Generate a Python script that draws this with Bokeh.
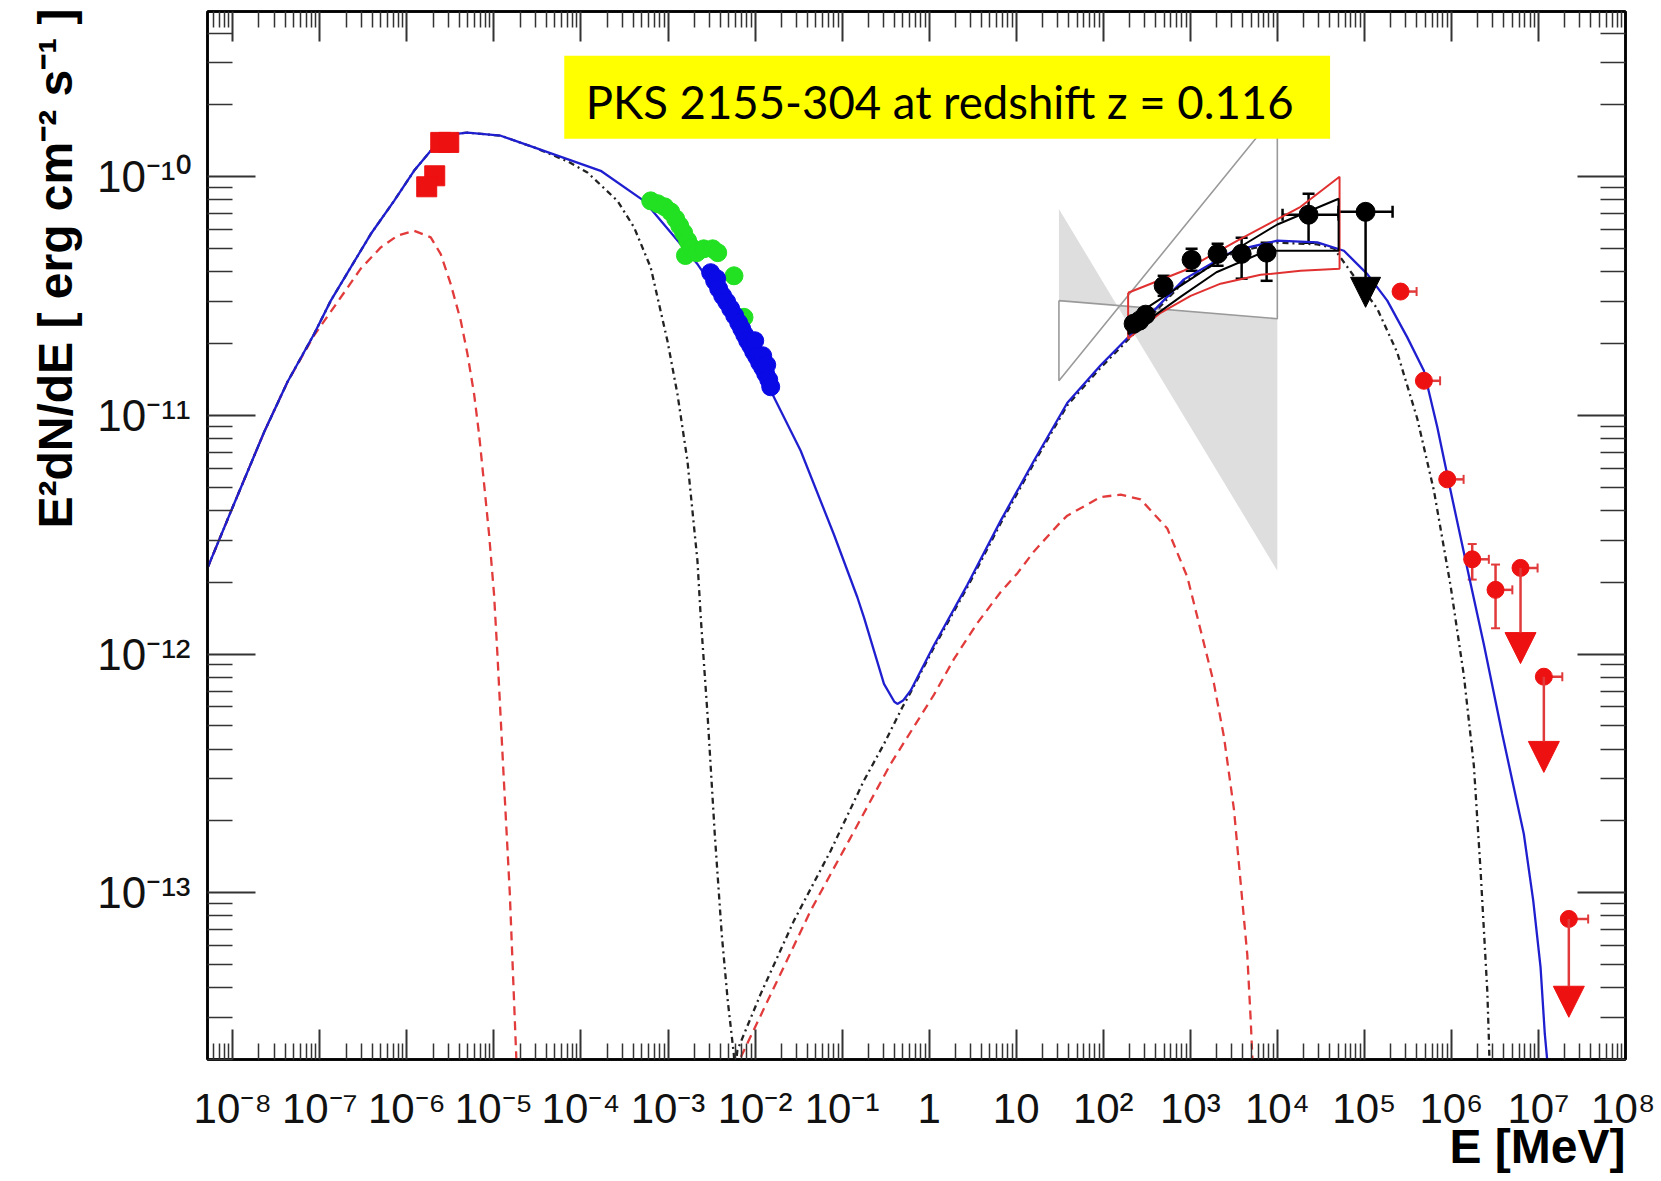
import numpy as np
from bokeh.plotting import figure
from bokeh.models import (ColumnDataSource, FixedTicker, LogAxis, Label, BoxAnnotation, Title,
                          Whisker, TeeHead, Arrow, NormalHead, CustomJSTickFormatter, Range1d)
from bokeh.embed import file_html
from bokeh.resources import INLINE

# All values: x = log10(E / MeV), y = log10(E^2 dN/dE / erg cm^-2 s^-1)

# ---- model curves ----
total_lx = [-8.291, -7.985, -7.640, -7.372, -7.066, -6.874, -6.645, -6.415, -6.147, -5.918,
            -5.726, -5.458, -5.304, -4.922, -4.539, -4.156, -3.773, -3.276, -2.662, -2.242,
            -1.820, -1.476, -1.093, -0.825, -0.749, -0.519, -0.400, -0.365, -0.300, -0.212,
            0.052, 0.439, 0.822, 1.204, 1.588, 1.970, 2.315, 2.927, 3.501, 4.000,
            4.459, 4.765, 5.034, 5.263, 5.493, 5.684, 5.838, 5.990, 6.182, 6.373,
            6.584, 6.832, 6.940, 7.024, 7.073, 7.101, 7.110]
total_ly = [-11.640, -11.370, -11.070, -10.860, -10.659, -10.519, -10.380, -10.240, -10.101, -9.975,
            -9.891, -9.821, -9.815, -9.828, -9.877, -9.926, -9.975, -10.101, -10.366, -10.589,
            -10.897, -11.148, -11.500, -11.762, -11.846, -12.125, -12.200, -12.209, -12.195, -12.153,
            -11.965, -11.710, -11.441, -11.190, -10.947, -10.790, -10.662, -10.430, -10.310, -10.268,
            -10.275, -10.310, -10.408, -10.519, -10.673, -10.813, -11.050, -11.315, -11.640, -11.960,
            -12.335, -12.754, -13.033, -13.312, -13.592, -13.703, -13.800]

sync1_lx = [-8.291, -7.985, -7.640, -7.372, -7.066, -6.797, -6.530, -6.300, -6.108, -5.918,
            -5.726, -5.611, -5.496, -5.381, -5.304, -5.228, -5.171, -5.113, -5.056, -4.999,
            -4.960, -4.890, -4.818, -4.742, -4.720]
sync1_ly = [-11.640, -11.370, -11.070, -10.860, -10.665, -10.525, -10.385, -10.296, -10.247, -10.226,
            -10.254, -10.324, -10.450, -10.603, -10.743, -10.910, -11.078, -11.287, -11.497, -11.748,
            -12.000, -12.500, -13.000, -13.700, -13.900]

ic1_lx = [-2.200, -2.165, -1.744, -1.361, -0.901, -0.442, 0.056, 0.286, 0.554, 0.822,
          1.017, 1.204, 1.503, 1.587, 1.970, 2.200, 2.430, 2.736, 2.966, 3.119,
          3.272, 3.387, 3.502, 3.578, 3.655, 3.693, 3.713, 3.720]
ic1_ly = [-13.750, -13.690, -13.368, -13.075, -12.768, -12.460, -12.170, -12.020, -11.870, -11.740,
          -11.660, -11.570, -11.450, -11.420, -11.342, -11.332, -11.352, -11.474, -11.677, -11.900,
          -12.124, -12.347, -12.652, -12.956, -13.261, -13.525, -13.687, -13.800]

sync2_lx = [-8.291, -7.985, -7.640, -7.372, -7.066, -6.874, -6.645, -6.415, -6.147, -5.918,
            -5.726, -5.458, -5.304, -4.922, -4.539, -4.156, -3.926, -3.581, -3.390, -3.199,
            -3.007, -2.892, -2.777, -2.662, -2.624, -2.544, -2.463, -2.383, -2.314, -2.245, -2.230]
sync2_ly = [-11.640, -11.370, -11.070, -10.860, -10.659, -10.519, -10.380, -10.240, -10.101, -9.975,
            -9.891, -9.821, -9.815, -9.828, -9.877, -9.935, -9.982, -10.101, -10.212, -10.380,
            -10.687, -10.910, -11.190, -11.609, -11.846, -12.265, -12.754, -13.173, -13.452, -13.674, -13.750]

ic2_lx = [-2.230, -2.203, -1.935, -1.553, -1.131, -0.749, -0.519, -0.308, -0.212, 0.052,
          0.439, 0.822, 1.204, 1.588, 1.970, 2.315, 2.927, 3.501, 4.000, 4.459,
          4.651, 5.148, 5.378, 5.608, 5.799, 5.990, 6.143, 6.258, 6.335, 6.412, 6.431, 6.440]
ic2_ly = [-13.750, -13.660, -13.424, -13.117, -12.824, -12.530, -12.377, -12.223, -12.160, -11.975,
          -11.720, -11.452, -11.200, -10.957, -10.800, -10.672, -10.440, -10.318, -10.276, -10.283,
          -10.300, -10.553, -10.737, -11.014, -11.315, -11.713, -12.090, -12.468, -12.907, -13.410, -13.620, -13.750]

# ---- data points ----
optical_lx = [-5.611, -5.519, -5.680, -5.772]
optical_ly = [-9.856, -9.856, -9.996, -10.042]

uv_lx = [-3.199, -3.118, -3.038, -2.969, -2.912, -2.866, -2.820, -2.800, -2.774, -2.728,
         -2.670, -2.590, -2.487, -2.429, -2.242, -2.127]
uv_ly = [-10.101, -10.113, -10.126, -10.147, -10.176, -10.205, -10.235, -10.330, -10.268, -10.297,
         -10.318, -10.302, -10.302, -10.318, -10.415, -10.589]

xray_lx = [-2.510, -2.464, -2.441, -2.418, -2.372, -2.326, -2.280, -2.234, -2.188, -2.153,
           -2.119, -2.085, -2.050, -2.016, -2.004, -1.981, -1.947, -1.912, -1.912, -1.878,
           -1.866, -1.843, -1.820]
xray_ly = [-10.402, -10.436, -10.427, -10.469, -10.499, -10.524, -10.553, -10.582, -10.612, -10.637,
           -10.662, -10.687, -10.708, -10.733, -10.687, -10.754, -10.779, -10.800, -10.750, -10.825,
           -10.788, -10.850, -10.880]

lat_lx = [2.349, 2.416, 2.487, 2.694, 3.015, 3.314, 3.590, 3.877, 4.359]
lat_ly = [-10.616, -10.603, -10.578, -10.457, -10.348, -10.323, -10.323, -10.318, -10.159]
lat_ly_lo = [-10.640, -10.645, -10.600, -10.499, -10.394, -10.373, -10.427, -10.436, -10.277]
lat_ly_hi = [-10.590, -10.570, -10.555, -10.415, -10.302, -10.281, -10.256, -10.277, -10.071]
lat_xerr_y = [-10.159]
lat_xerr_lo = [4.060]
lat_xerr_hi = [4.704]
lat_ul_lx = [5.014]
lat_ul_ly = [-10.147]
lat_ul_tip = [-10.547]
lat_ul_xlo = [4.704]
lat_ul_xhi = [5.324]

hess_lx = [5.416, 5.684, 5.952, 6.239, 6.507]
hess_ly = [-10.481, -10.855, -11.268, -11.603, -11.731]
hess_xlo = [5.320, 5.590, 5.860, 6.140, 6.410]
hess_xhi = [5.600, 5.870, 6.140, 6.430, 6.700]
hess_err_lx = [6.239, 6.507]
hess_err_lo = [-11.688, -11.892]
hess_err_hi = [-11.539, -11.625]
hess_ul_lx = [6.794, 7.062, 7.349]
hess_ul_ly = [-11.639, -12.095, -13.110]
hess_ul_tip = [-12.040, -12.496, -13.522]
hess_ul_xlo = [6.700, 6.970, 7.250]
hess_ul_xhi = [6.990, 7.274, 7.571]

# ---- butterflies ----
egret_fill_lx = [[1.491, 1.491, 2.160], [2.160, 4.000, 4.000]]
egret_fill_ly = [[-10.135, -10.519, -10.540], [-10.540, -10.595, -11.651]]
egret_line_lx = [1.491, 1.491, 4.000, 4.000, 1.491]
egret_line_ly = [-10.519, -10.855, -9.728, -10.595, -10.519]

lat_bow_lx = [2.286, 2.923, 3.578, 4.267, 4.715, 4.715, 4.267, 3.808, 3.348, 3.004, 2.659, 2.286, 2.286]
lat_bow_ly = [-10.486, -10.394, -10.260, -10.126, -10.000, -10.385, -10.394, -10.411, -10.448, -10.499, -10.570, -10.679, -10.486]

lat2_bow_lx = [2.290, 3.000, 3.500, 4.000, 4.704, 4.704, 3.877, 3.300, 2.900, 2.290, 2.290]
lat2_bow_ly = [-10.600, -10.430, -10.310, -10.200, -10.092, -10.310, -10.310, -10.400, -10.500, -10.660, -10.600]

# ---- axes ----
x_tick_exps = list(range(-8, 9))
x_tick_labels = ["10\u207b\u2078", "10\u207b\u2077", "10\u207b\u2076", "10\u207b\u2075", "10\u207b\u2074",
                 "10\u207b\u00b3", "10\u207b\u00b2", "10\u207b\u00b9", "1", "10", "10\u00b2", "10\u00b3",
                 "10\u2074", "10\u2075", "10\u2076", "10\u2077", "10\u2078"]
y_tick_exps = [-13, -12, -11, -10]
y_tick_labels = ["10\u207b\u00b9\u00b3", "10\u207b\u00b9\u00b2", "10\u207b\u00b9\u00b9", "10\u207b\u00b9\u2070"]
x_lim = (-8.2906, 8.0)
y_lim = (-13.699, -9.3075)

title_text = "PKS 2155-304 at redshift z = 0.116"
ytitle_text = "E\u00b2dN/dE [ erg cm\u207b\u00b2 s\u207b\u00b9 ]"
xtitle_text = "E [MeV]"


def pw(a):
    return [10.0 ** v for v in a]


p = figure(width=1655, height=1180, x_axis_type="log", y_axis_type="log",
           x_range=Range1d(10 ** x_lim[0], 10 ** x_lim[1]),
           y_range=Range1d(10 ** y_lim[0], 10 ** y_lim[1]),
           output_backend="svg", toolbar_location=None,
           min_border_left=207, min_border_right=30, min_border_top=11, min_border_bottom=121)
p.grid.visible = False
p.background_fill_color = "white"
p.border_fill_color = "white"
p.outline_line_color = "black"
p.outline_line_width = 2.5

xt = FixedTicker(ticks=[10.0 ** e for e in x_tick_exps],
                 minor_ticks=[m * 10.0 ** e for e in range(-9, 8) for m in range(2, 10)])
yt = FixedTicker(ticks=[10.0 ** e for e in y_tick_exps],
                 minor_ticks=[m * 10.0 ** e for e in range(-14, -9) for m in range(2, 10)])


def style_axis(ax, major, minor):
    ax.axis_line_color = "black"
    ax.axis_line_width = 2.5
    ax.major_tick_in = major
    ax.major_tick_out = 0
    ax.minor_tick_in = minor
    ax.minor_tick_out = 0
    ax.major_tick_line_color = "#333333"
    ax.minor_tick_line_color = "#333333"
    ax.major_tick_line_width = 2
    ax.minor_tick_line_width = 1.5


xa = p.xaxis[0]
xa.ticker = xt
xa.major_label_overrides = {10.0 ** e: s for e, s in zip(x_tick_exps, x_tick_labels)}
style_axis(xa, 30, 16)
xa.major_label_text_font = "Liberation Sans"
xa.major_label_text_font_size = "42px"
xa.major_label_text_color = "#111111"
xa.major_label_standoff = 25

ya = p.yaxis[0]
ya.ticker = yt
ya.major_label_overrides = {10.0 ** e: s for e, s in zip(y_tick_exps, y_tick_labels)}
style_axis(ya, 48, 25)
ya.major_label_text_font = "Liberation Sans"
ya.major_label_text_font_size = "44px"
ya.major_label_text_color = "#111111"
ya.major_label_standoff = 17

empty = CustomJSTickFormatter(code="return ''")
top = LogAxis(ticker=xt, formatter=empty, major_label_text_font_size="0px", major_label_standoff=0)
style_axis(top, 30, 16)
p.add_layout(top, "above")
right = LogAxis(ticker=yt, formatter=empty, major_label_text_font_size="0px", major_label_standoff=0)
style_axis(right, 48, 25)
p.add_layout(right, "right")

# ---- axis titles ----
p.add_layout(Title(text=ytitle_text, align="right", offset=-3, standoff=23,
                   text_font="Liberation Sans", text_font_style="bold",
                   text_font_size="48px", text_color="black"), "left")
p.add_layout(Title(text=xtitle_text, align="right", offset=0, standoff=-30, vertical_align="top",
                   text_font="Liberation Sans", text_font_style="bold",
                   text_font_size="48px", text_color="black"), "below")

# ---- butterflies ----
p.patches(xs=[pw(a) for a in egret_fill_lx], ys=[pw(a) for a in egret_fill_ly],
          fill_color="#dedede", line_color=None)
p.line(pw(egret_line_lx), pw(egret_line_ly), line_color="#9a9a9a", line_width=1.6)

# ---- model curves ----
p.line(pw(sync1_lx), pw(sync1_ly), line_color="#e23b3b", line_width=2.3, line_dash="9 6")
p.line(pw(ic1_lx), pw(ic1_ly), line_color="#e23b3b", line_width=2.3, line_dash="9 6")
p.line(pw(sync2_lx), pw(sync2_ly), line_color="#222222", line_width=2.3, line_dash="6 4 2 4")
p.line(pw(ic2_lx), pw(ic2_ly), line_color="#222222", line_width=2.3, line_dash="6 4 2 4")
p.line(pw(total_lx), pw(total_ly), line_color="#1f1fd0", line_width=2.3)

# ---- low-energy data ----
p.scatter(pw(optical_lx), pw(optical_ly), marker="square", size=20, color="#ee1111")
p.scatter(pw(uv_lx), pw(uv_ly), marker="circle", size=18, color="#22e022")
p.scatter(pw(xray_lx), pw(xray_ly), marker="circle", size=18, color="#0a0ae6")

# ---- LAT ----
p.line(pw(lat_bow_lx), pw(lat_bow_ly), line_color="#e03030", line_width=2)
p.line(pw(lat2_bow_lx), pw(lat2_bow_ly), line_color="black", line_width=2)

lat_src = ColumnDataSource(dict(x=pw(lat_lx), y=pw(lat_ly), lo=pw(lat_ly_lo), hi=pw(lat_ly_hi)))
p.add_layout(Whisker(source=lat_src, base="x", lower="lo", upper="hi", dimension="height",
                     line_color="black", line_width=2.5,
                     lower_head=TeeHead(size=12, line_color="black", line_width=2.5),
                     upper_head=TeeHead(size=12, line_color="black", line_width=2.5)))
latx_src = ColumnDataSource(dict(y=pw(lat_xerr_y + lat_ul_ly), lo=pw(lat_xerr_lo + lat_ul_xlo),
                                 hi=pw(lat_xerr_hi + lat_ul_xhi)))
p.add_layout(Whisker(source=latx_src, base="y", lower="lo", upper="hi", dimension="width",
                     line_color="black", line_width=2.5,
                     lower_head=TeeHead(size=12, line_color="black", line_width=2.5),
                     upper_head=TeeHead(size=12, line_color="black", line_width=2.5)))
p.scatter(pw(lat_lx), pw(lat_ly), marker="circle", size=19, color="black")
p.scatter(pw(lat_ul_lx), pw(lat_ul_ly), marker="circle", size=19, color="black")
lat_ul_src = ColumnDataSource(dict(x=pw(lat_ul_lx), y0=pw(lat_ul_ly), y1=pw(lat_ul_tip)))
p.add_layout(Arrow(source=lat_ul_src, x_start="x", y_start="y0", x_end="x", y_end="y1",
                   line_color="black", line_width=2.5,
                   end=NormalHead(size=30, fill_color="black", line_color="black")))

# ---- HESS ----
hx_src = ColumnDataSource(dict(y=pw(hess_ly + hess_ul_ly), lo=pw(hess_xlo + hess_ul_xlo),
                               hi=pw(hess_xhi + hess_ul_xhi)))
p.add_layout(Whisker(source=hx_src, base="y", lower="lo", upper="hi", dimension="width",
                     line_color="#e03a3a", line_width=2.5, lower_head=None,
                     upper_head=TeeHead(size=9, line_color="#e03a3a", line_width=2)))
hy_src = ColumnDataSource(dict(x=pw(hess_err_lx), lo=pw(hess_err_lo), hi=pw(hess_err_hi)))
p.add_layout(Whisker(source=hy_src, base="x", lower="lo", upper="hi", dimension="height",
                     line_color="#e03a3a", line_width=2.5,
                     lower_head=TeeHead(size=9, line_color="#e03a3a", line_width=2),
                     upper_head=TeeHead(size=9, line_color="#e03a3a", line_width=2)))
hul_src = ColumnDataSource(dict(x=pw(hess_ul_lx), y0=pw(hess_ul_ly), y1=pw(hess_ul_tip)))
p.add_layout(Arrow(source=hul_src, x_start="x", y_start="y0", x_end="x", y_end="y1",
                   line_color="#e03a3a", line_width=2.5,
                   end=NormalHead(size=31, fill_color="#ee1111", line_color="#ee1111")))
p.scatter(pw(hess_lx + hess_ul_lx), pw(hess_ly + hess_ul_ly), marker="circle", size=17, color="#ee1111")

# ---- title box ----
p.add_layout(BoxAnnotation(left=10 ** -4.192, right=10 ** 4.606, bottom=10 ** -9.841, top=10 ** -9.493,
                           fill_color="#ffff00", fill_alpha=1.0, line_color=None))
p.add_layout(Label(x=10 ** -3.945, y=10 ** -9.684, text=title_text, text_font="Lato",
                   text_font_size="45.5px", text_color="black", text_align="left",
                   text_baseline="alphabetic"))

open("out.html", "w").write(file_html(p, INLINE))
